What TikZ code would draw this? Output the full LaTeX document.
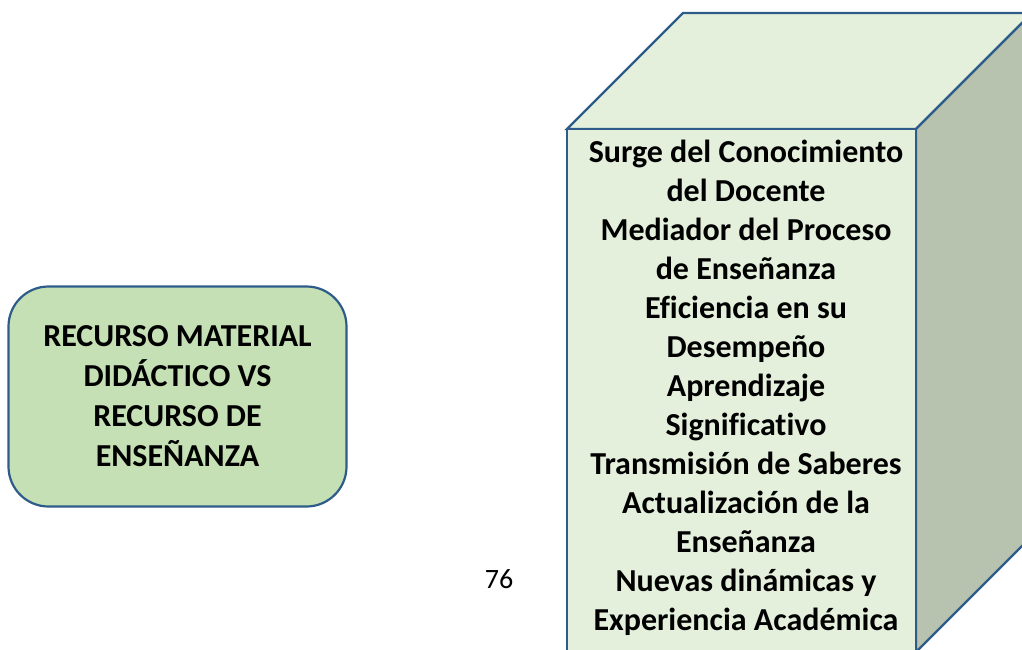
\documentclass[tikz,border=0pt]{standalone}
\usepackage{fontspec}
\setmainfont{Carlito}[Ligatures=NoCommon]
\definecolor{edge}{HTML}{2E5C8A}
\definecolor{boxfill}{HTML}{C5E0B4}
\definecolor{facefill}{HTML}{E4F0DC}
\definecolor{sidefill}{HTML}{B8C3AF}
\tikzset{
  facestyle/.style={draw=edge, line width=2.2pt, line join=miter},
  roundbox/.style={draw=edge, line width=2.2pt, fill=boxfill, rounded corners=40pt,
    minimum width=338pt, minimum height=220pt, align=center,
    font=\fontsize{32}{40}\selectfont\bfseries},
  cubetxt/.style={align=center, font=\fontsize{32}{39}\selectfont\bfseries, inner sep=0pt},
}
\begin{document}
\begin{tikzpicture}[x=1pt,y=-1pt]
\useasboundingbox (0,0) rectangle (1022,650);
\clip (0,0) rectangle (1022,650);
% cube
\coordinate (fa) at (567,129);
\coordinate (fb) at (916,129);
\coordinate (fc) at (916,652);
\coordinate (fd) at (567,652);
\coordinate (ta) at (683,13);
\coordinate (tb) at (1032,13);
\coordinate (sb) at (1032,536);
\draw[facestyle, fill=facefill] (fa) -- (ta) -- (tb) -- (fb) -- cycle;
\draw[facestyle, fill=sidefill] (fb) -- (tb) -- (sb) -- (fc) -- cycle;
\draw[facestyle, fill=facefill] (fa) -- (fb) -- (fc) -- (fd) -- cycle;
\node[cubetxt] (cubetext) at (746,388) {Surge del Conocimiento\\del Docente\\Mediador del Proceso\\de Enseñanza\\Eficiencia en su\\Desempeño\\Aprendizaje\\Significativo\\Transmisión de Saberes\\Actualización de la\\Enseñanza\\Nuevas dinámicas y\\Experiencia Académica};
% left box
\node[roundbox] (recurso) at (177.5,396.5) {RECURSO MATERIAL\\DIDÁCTICO VS\\RECURSO DE\\ENSEÑANZA};
% page number
\node[font=\fontsize{28}{32}\selectfont] (pagenum) at (499,579) {76};
\end{tikzpicture}
\end{document}
